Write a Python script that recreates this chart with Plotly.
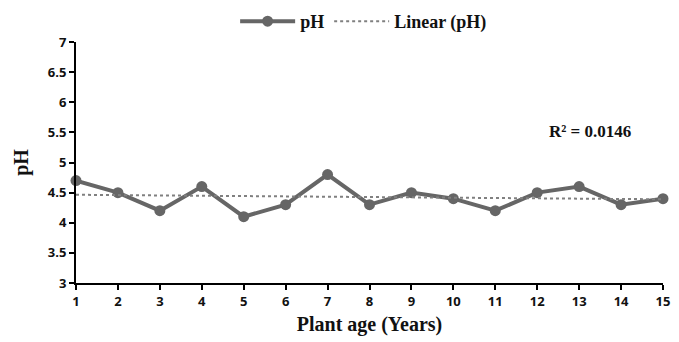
import numpy as np
import plotly.graph_objects as go

plant_age = [1, 2, 3, 4, 5, 6, 7, 8, 9, 10, 11, 12, 13, 14, 15]
ph_values = [4.7, 4.5, 4.2, 4.6, 4.1, 4.3, 4.8, 4.3, 4.5, 4.4, 4.2, 4.5, 4.6, 4.3, 4.4]
y_ticks = [3, 3.5, 4, 4.5, 5, 5.5, 6, 6.5, 7]

x = np.array(plant_age, dtype=float)
y = np.array(ph_values, dtype=float)
slope, intercept = np.polyfit(x, y, 1)
trend = slope * x + intercept

GRAY = "#666666"
serif = "Liberation Serif, Times New Roman, serif"
sans = "Open Sans, DejaVu Sans, sans-serif"

fig = go.Figure()
fig.add_trace(go.Scatter(
    x=plant_age, y=ph_values, mode="lines+markers", name="pH",
    line=dict(color=GRAY, width=4), marker=dict(color=GRAY, size=11),
    cliponaxis=False,
))
fig.add_trace(go.Scatter(
    x=plant_age, y=trend.tolist(), mode="lines", name="Linear (pH)",
    line=dict(color="#808080", width=2, dash="dot"),
))

fig.add_annotation(
    x=13.25, y=5.52, xref="x", yref="y", text="<b>R² = 0.0146</b>", showarrow=False,
    font=dict(family=serif, size=17, color="#111111"), xanchor="center",
)

fig.update_layout(
    width=671, height=334,
    margin=dict(l=68, r=16, t=34, b=59, autoexpand=False),
    paper_bgcolor="white", plot_bgcolor="white",
    showlegend=True,
    legend=dict(orientation="h", x=0.49, xanchor="center", y=1.085, yanchor="middle",
                font=dict(family=serif, size=18, color="#111111", weight="bold"),
                itemwidth=55, bgcolor="rgba(0,0,0,0)"),
    xaxis=dict(
        range=[1, 15], tickvals=plant_age, ticktext=[str(v) for v in plant_age],
        showline=True, linecolor="black", linewidth=2,
        ticks="outside", ticklen=5, tickwidth=2, tickcolor="black",
        showgrid=False, zeroline=False,
        tickfont=dict(family=sans, size=13, color="#111111", weight="bold"),
        title=dict(text="Plant age (Years)", font=dict(family=serif, size=20, color="#111111", weight="bold"), standoff=8),
    ),
    yaxis=dict(
        range=[3, 7], tickvals=y_ticks, ticktext=[f"{v:g}" for v in y_ticks],
        showline=True, linecolor="black", linewidth=2,
        ticks="outside", ticklen=5, tickwidth=2, tickcolor="black",
        showgrid=False, zeroline=False,
        tickfont=dict(family=sans, size=13, color="#111111", weight="bold"),
        title=dict(text="pH", font=dict(family=serif, size=20, color="#111111", weight="bold"), standoff=14),
    ),
)

fig.write_html("out.html")
